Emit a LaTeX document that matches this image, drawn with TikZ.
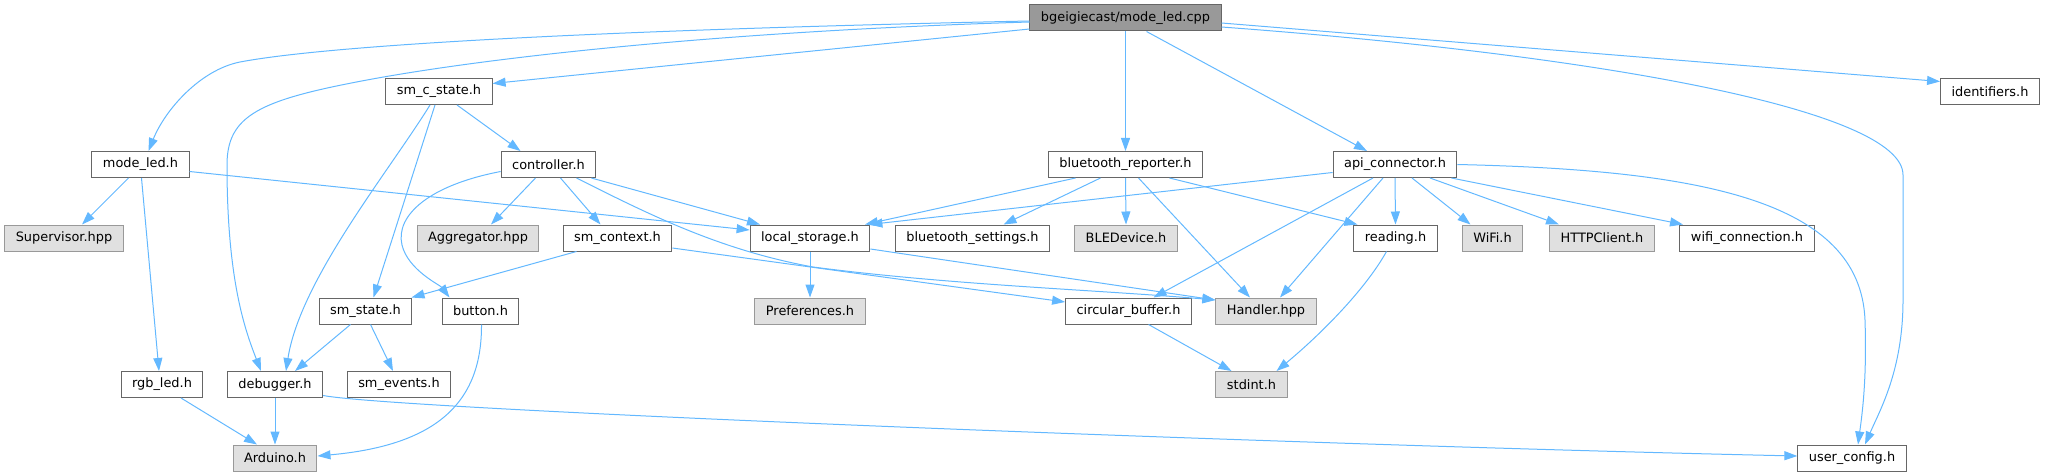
\documentclass[tikz,border=0pt]{standalone}
\usepackage{fontspec}
\setmainfont{DejaVu Sans}
\usetikzlibrary{positioning,arrows.meta}
\definecolor{edgeblue}{RGB}{99,184,255}
\definecolor{nodeborder}{RGB}{102,102,102}
\definecolor{extfill}{RGB}{224,224,224}
\definecolor{extborder}{RGB}{153,153,153}
\definecolor{rootfill}{RGB}{153,153,153}

\begin{document}
\begin{tikzpicture}[
    x=1pt, y=1pt,
    font=\fontsize{12.9}{15}\selectfont,
    >={Triangle[length=13pt,width=9pt]},
    header/.style={
        rectangle,
        minimum height=26pt,
        inner xsep=11pt, inner ysep=0pt,
        text=black,
        draw=nodeborder, line width=1pt,
        fill=white
    },
    external/.style={
        header,
        draw=extborder,
        fill=extfill
    },
    root/.style={
        header,
        fill=rootfill
    },
    dep/.style={
        ->, line width=1pt,
        draw=edgeblue, fill=none
    }
]

\useasboundingbox (0,0) rectangle (2045,-476);

% ROW 1: the file itself
\node[root] at (1125.5,-18) (cpp) {bgeigiecast/mode\_led.cpp};

% ROW 2
\node[header] at (439,-91.5) (smcstate) {sm\_c\_state.h};
\node[header] at (1990,-91.5) (ident) {identifiers.h};

% ROW 3
\node[header] at (140.5,-164.5) (modeled) {mode\_led.h};
\node[header] at (548.5,-164.5) (ctrl) {controller.h};
\node[header] at (1125.5,-164.5) (btrep) {bluetooth\_reporter.h};
\node[header] at (1395,-164.5) (apiconn) {api\_connector.h};

% ROW 4
\node[external] at (64,-238) (superv) {Supervisor.hpp};
\node[external] at (478,-238) (aggr) {Aggregator.hpp};
\node[header] at (617.5,-238) (smctx) {sm\_context.h};
\node[header] at (810,-238) (locstore) {local\_storage.h};
\node[header] at (972.5,-238) (btset) {bluetooth\_settings.h};
\node[external] at (1126,-238) (bledev) {BLEDevice.h};
\node[header] at (1395.5,-238) (reading) {reading.h};
\node[external] at (1492.5,-238) (wifi) {WiFi.h};
\node[external] at (1602,-238) (httpcl) {HTTPClient.h};
\node[header] at (1747,-238) (wificonn) {wifi\_connection.h};

% ROW 5
\node[header] at (365.5,-311) (smstate) {sm\_state.h};
\node[header] at (480.5,-311) (button) {button.h};
\node[external] at (810,-311) (prefs) {Preferences.h};
\node[header] at (1128.5,-311) (circbuf) {circular\_buffer.h};
\node[external] at (1266,-311) (handler) {Handler.hpp};

% ROW 6
\node[header] at (162,-384.5) (rgbled) {rgb\_led.h};
\node[header] at (275,-384.5) (debugger) {debugger.h};
\node[header] at (399,-384.5) (smevents) {sm\_events.h};
\node[external] at (1251.5,-384.5) (stdint) {stdint.h};

% ROW 7
\node[external] at (275,-458) (arduino) {Arduino.h};
\node[header] at (1852,-458) (userconf) {user\_config.h};

% === CONNECTIONS ===
% mode_led.cpp
\draw[dep] ([yshift=-3pt]cpp.west) .. controls (600,-30) and (330,-45) .. (240,-62)
    .. controls (200,-70) and (165,-110) .. ([xshift=8pt]modeled.north);
\draw[dep] ([yshift=-4pt]cpp.west) .. controls (700,-32) and (474,-60) .. (367,-80)
    .. controls (260,-100) and (227,-115) .. (227,-165)
    .. controls (227,-280) and (245,-330) .. ([xshift=-14pt]debugger.north);
\draw[dep] ([yshift=-11pt]cpp.west) -- ([yshift=8pt]smcstate.east);
\draw[dep] (cpp.south) -- (btrep.north);
\draw[dep] ([xshift=21pt]cpp.south) -- ([xshift=-28pt]apiconn.north);
\draw[dep] ([yshift=-5pt]cpp.east) -- ([yshift=10pt]ident.west);
\draw[dep] ([yshift=-9pt]cpp.east) .. controls (1600,-55) and (1903,-110) .. (1903,-175)
    -- (1903,-300) .. controls (1903,-370) and (1880,-410) .. ([xshift=13pt]userconf.north);

% sm_c_state.h
\draw[dep] ([xshift=18pt]smcstate.south) -- ([xshift=-28pt]ctrl.north);
\draw[dep] ([xshift=-4pt]smcstate.south) -- ([xshift=8pt]smstate.north);
\draw[dep] ([xshift=-9pt]smcstate.south) .. controls (390,-170) and (300,-280) .. ([xshift=11pt]debugger.north);

% mode_led.h
\draw[dep] ([xshift=-12pt]modeled.south) -- ([xshift=18pt]superv.north);
\draw[dep] ([xshift=1pt]modeled.south) -- ([xshift=-3pt]rgbled.north);
\draw[dep] ([yshift=-7pt]modeled.east) -- ([yshift=8pt]locstore.west);

% controller.h
\draw[dep] ([xshift=-13pt]ctrl.south) -- ([xshift=13pt]aggr.north);
\draw[dep] ([xshift=12pt]ctrl.south) -- ([xshift=-17pt]smctx.north);
\draw[dep] ([xshift=-5pt]ctrl.south east) -- ([xshift=-50pt]locstore.north);
\draw[dep] ([xshift=28pt]ctrl.south) .. controls (650,-215) and (720,-250) .. (813,-267)
    .. controls (950,-285) and (1100,-290) .. ([yshift=11pt]handler.west);
\draw[dep] ([yshift=-7pt]ctrl.west) .. controls (430,-185) and (395,-215) .. (402,-245)
    .. controls (408,-270) and (440,-285) .. ([xshift=-31pt]button.north);

% sm_context.h
\draw[dep] ([xshift=-41pt]smctx.south) -- ([xshift=46pt]smstate.north);
\draw[dep] ([yshift=-10pt]smctx.east) -- ([yshift=9pt]circbuf.west);

% local_storage.h
\draw[dep] (locstore.south) -- (prefs.north);
\draw[dep] ([yshift=-11pt]locstore.east) -- ([yshift=11pt]handler.west);

% bluetooth_reporter.h
\draw[dep] ([xshift=-50pt]btrep.south) -- ([xshift=55pt]locstore.north);
\draw[dep] ([xshift=-25pt]btrep.south) -- ([xshift=31pt]btset.north);
\draw[dep] (btrep.south) -- (bledev.north);
\draw[dep] ([xshift=13pt]btrep.south) -- ([xshift=-16pt]handler.north);
\draw[dep] ([xshift=44pt]btrep.south) -- ([xshift=-38pt]reading.north);

% api_connector.h
\draw[dep] ([yshift=-8pt]apiconn.west) -- ([xshift=-1pt]locstore.north east);
\draw[dep] ([xshift=-22pt]apiconn.south) -- ([xshift=25pt]circbuf.north);
\draw[dep] ([xshift=-12pt]apiconn.south) -- ([xshift=14pt]handler.north);
\draw[dep] (apiconn.south) -- (reading.north);
\draw[dep] ([xshift=17pt]apiconn.south) -- ([xshift=-22pt]wifi.north);
\draw[dep] ([xshift=35pt]apiconn.south) -- ([xshift=-43pt]httpcl.north);
\draw[dep] ([xshift=-6pt]apiconn.south east) -- ([xshift=-64pt]wificonn.north);
\draw[dep] (apiconn.east) .. controls (1700,-170) and (1860,-200) .. (1865,-320)
    .. controls (1867,-380) and (1862,-415) .. ([xshift=6pt]userconf.north);

% lower rows
\draw[dep] ([xshift=-9pt]reading.south) .. controls (1365,-290) and (1320,-335) .. ([xshift=25pt]stdint.north);
\draw[dep] ([xshift=20pt]circbuf.south) -- ([xshift=-20pt]stdint.north);
\draw[dep] ([xshift=-15pt]smstate.south) -- ([xshift=20pt]debugger.north);
\draw[dep] ([xshift=5pt]smstate.south) -- ([xshift=-6pt]smevents.north);
\draw[dep] ([xshift=1pt]button.south) .. controls (482,-400) and (440,-445) .. ([yshift=2pt]arduino.east);
\draw[dep] ([xshift=19pt]rgbled.south) -- ([xshift=-18pt]arduino.north);
\draw[dep] (debugger.south) -- (arduino.north);
\draw[dep] ([yshift=-11pt]debugger.east) .. controls (400,-410) and (1300,-445) .. ([yshift=2pt]userconf.west);

\end{tikzpicture}
\end{document}
